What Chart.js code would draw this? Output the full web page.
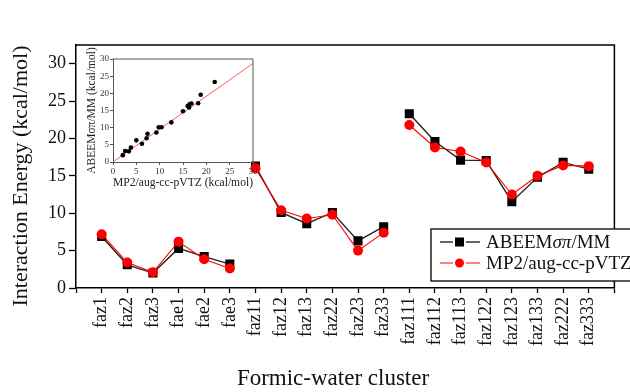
<!DOCTYPE html>
<html>
<head>
<meta charset="utf-8">
<script src="https://cdn.jsdelivr.net/npm/chart.js@4.4.1/dist/chart.umd.min.js"></script>
<style>
  html, body { margin: 0; padding: 0; background: #fff; overflow: hidden; }
  #wrap { position: relative; width: 630px; height: 392px; overflow: hidden; }
  #main { position: absolute; left: 0; top: 0; }
  #inset { position: absolute; left: 80px; top: 40px; }
</style>
</head>
<body>
<div id="wrap">
  <canvas id="main" width="640" height="392"></canvas>
  <canvas id="inset" width="190" height="160"></canvas>
</div>
<script>
const clusters = ["faz1", "faz2", "faz3", "fae1", "fae2", "fae3",
  "faz11", "faz12", "faz13", "faz22", "faz23", "faz33",
  "faz111", "faz112", "faz113", "faz122", "faz123", "faz133", "faz222", "faz333"];
const groupSizes = [6, 6, 8];
const abeem = [6.9, 3.1, 2.0, 5.3, 4.2, 3.2,
  16.3, 10.1, 8.6, 10.1, 6.3, 8.2,
  23.3, 19.6, 17.1, 17.05, 11.55, 14.8, 16.8, 15.9];
const mp2 = [7.2, 3.4, 2.1, 6.2, 3.85, 2.6,
  16.0, 10.4, 9.3, 9.8, 5.0, 7.4,
  21.8, 18.8, 18.25, 16.8, 12.5, 15.0, 16.4, 16.3];
const fitLineX = [0, 30];
const fitLineY = [0, 28.7];

const serif = "'Liberation Serif', 'DejaVu Serif', serif";

// last index of each group, the line is not drawn past it
const breaks = [];
groupSizes.reduce((acc, n) => { breaks.push(acc + n - 1); return acc + n; }, 0);

const toPoints = (vals) => vals.map((v, i) => ({ x: i + 1, y: v }));
const hideBreaks = (ctx) => breaks.includes(ctx.p0DataIndex) ? "rgba(0,0,0,0)" : undefined;

const framePlugin = {
  id: "frame",
  afterDraw(chart, args, opts) {
    const { ctx, chartArea: a } = chart;
    ctx.save();
    ctx.strokeStyle = opts.color || "#000";
    ctx.lineWidth = opts.width || 1;
    ctx.beginPath();
    ctx.moveTo(a.left, a.top);
    ctx.lineTo(a.right, a.top);
    ctx.lineTo(a.right, a.bottom);
    ctx.stroke();
    ctx.restore();
  },
};

const mainExtras = {
  id: "mainExtras",
  afterDraw(chart) {
    const ctx = chart.ctx;
    ctx.save();
    // axis titles
    ctx.fillStyle = "#111";
    ctx.textAlign = "center";
    ctx.textBaseline = "middle";
    ctx.font = "22px " + serif;
    ctx.save();
    ctx.translate(21, 176);
    ctx.rotate(-Math.PI / 2);
    ctx.fillText("Interaction Energy (kcal/mol)", 0, 0);
    ctx.restore();
    ctx.font = "23px " + serif;
    ctx.fillText("Formic-water cluster", 333, 379);

    // legend
    ctx.fillStyle = "#fff";
    ctx.fillRect(431, 229, 210, 52);
    ctx.strokeStyle = "#000";
    ctx.lineWidth = 1.3;
    ctx.strokeRect(431, 229, 210, 52);
    const rows = [
      { y: 242, line: "#333", lw: 1.3, text: ["ABEEM", "σπ", "/MM"], mark: "rect" },
      { y: 263, line: "#ff0000", lw: 1, text: ["MP2/aug-cc-pVTZ"], mark: "circle" },
    ];
    rows.forEach((r) => {
      ctx.strokeStyle = r.line;
      ctx.lineWidth = r.lw;
      ctx.beginPath();
      ctx.moveTo(440, r.y); ctx.lineTo(453, r.y);
      ctx.moveTo(466, r.y); ctx.lineTo(480, r.y);
      ctx.stroke();
      if (r.mark === "rect") {
        ctx.fillStyle = "#000";
        ctx.fillRect(455, r.y - 4.5, 9, 9);
      } else {
        ctx.fillStyle = "#ff0000";
        ctx.beginPath();
        ctx.arc(459.5, r.y, 4.5, 0, Math.PI * 2);
        ctx.fill();
      }
      ctx.fillStyle = "#111";
      ctx.textAlign = "left";
      let x = 486;
      r.text.forEach((t) => {
        ctx.font = (t === "σπ" ? "italic " : "") + "19px " + serif;
        ctx.fillText(t, x, r.y + 1);
        x += ctx.measureText(t).width;
      });
    });
    ctx.restore();
  },
};

new Chart(document.getElementById("main"), {
  type: "line",
  data: {
    datasets: [
      {
        label: "ABEEMσπ/MM",
        data: toPoints(abeem),
        order: 1,
        borderColor: "#222",
        borderWidth: 1.4,
        backgroundColor: "#000",
        pointStyle: "rect",
        pointRadius: 6.4,
        pointBorderWidth: 0,
        segment: { borderColor: hideBreaks },
      },
      {
        label: "MP2/aug-cc-pVTZ",
        data: toPoints(mp2),
        order: 0,
        borderColor: "#ff0000",
        borderWidth: 1.1,
        backgroundColor: "#ff0000",
        pointStyle: "circle",
        pointRadius: 5,
        pointBorderWidth: 0,
        segment: { borderColor: hideBreaks },
      },
    ],
  },
  options: {
    responsive: false,
    animation: false,
    layout: { padding: { left: 0, top: 45, right: 9, bottom: 0 } },
    plugins: {
      legend: { display: false },
      tooltip: { enabled: false },
      frame: { color: "#000", width: 1.5 },
    },
    scales: {
      x: {
        type: "linear",
        min: 0,
        max: 21,
        afterFit: (s) => { s.height = 104; },
        border: { display: true, color: "#000", width: 1.5 },
        grid: { drawOnChartArea: false, tickLength: 5, tickColor: "#000", tickWidth: 1.3 },
        ticks: {
          stepSize: 1,
          autoSkip: false,
          minRotation: 90,
          maxRotation: 90,
          padding: 4,
          color: "#111",
          font: { family: serif, size: 18 },
          callback: (v) => clusters[v - 1] || "",
        },
      },
      y: {
        min: 0,
        max: 32.5,
        afterFit: (s) => { s.width = 76; },
        border: { display: true, color: "#000", width: 1.5 },
        grid: { drawOnChartArea: false, tickLength: 7, tickColor: "#000", tickWidth: 1.3 },
        ticks: {
          stepSize: 5,
          includeBounds: false,
          padding: 3,
          color: "#111",
          font: { family: serif, size: 18 },
        },
      },
    },
  },
  plugins: [framePlugin, mainExtras],
});

new Chart(document.getElementById("inset"), {
  type: "scatter",
  data: {
    datasets: [
      {
        label: "points",
        data: mp2.map((v, i) => ({ x: v, y: abeem[i] })),
        backgroundColor: "#000",
        borderWidth: 0,
        pointRadius: 2.3,
      },
      {
        label: "fit",
        data: fitLineX.map((v, i) => ({ x: v, y: fitLineY[i] })),
        showLine: true,
        borderColor: "#ff5a5a",
        borderWidth: 1,
        pointRadius: 0,
      },
    ],
  },
  options: {
    responsive: false,
    animation: false,
    layout: { padding: { left: 0, top: 19, right: 17, bottom: 0 } },
    plugins: {
      legend: { display: false },
      tooltip: { enabled: false },
      frame: { color: "#555", width: 1 },
    },
    scales: {
      x: {
        min: 0,
        max: 30,
        afterFit: (s) => { s.height = 38; },
        border: { display: true, color: "#555", width: 1 },
        grid: { drawOnChartArea: false, tickLength: 3, tickColor: "#555" },
        ticks: { stepSize: 5, padding: 1, color: "#333", font: { family: serif, size: 9 } },
        title: {
          display: true,
          text: "MP2/aug-cc-pVTZ (kcal/mol)",
          color: "#222",
          font: { family: serif, size: 12 },
          padding: { top: 0, bottom: 10 },
        },
      },
      y: {
        min: 0,
        max: 30,
        afterFit: (s) => { s.width = 33; },
        border: { display: true, color: "#555", width: 1 },
        grid: { drawOnChartArea: false, tickLength: 3, tickColor: "#555" },
        ticks: { stepSize: 5, padding: 1, color: "#333", font: { family: serif, size: 9 } },
        title: {
          display: true,
          text: "ABEEMσπ/MM (kcal/mol)",
          color: "#222",
          font: { family: serif, size: 11.5 },
          padding: { top: 5, bottom: 0 },
        },
      },
    },
  },
  plugins: [framePlugin],
});
</script>
</body>
</html>
